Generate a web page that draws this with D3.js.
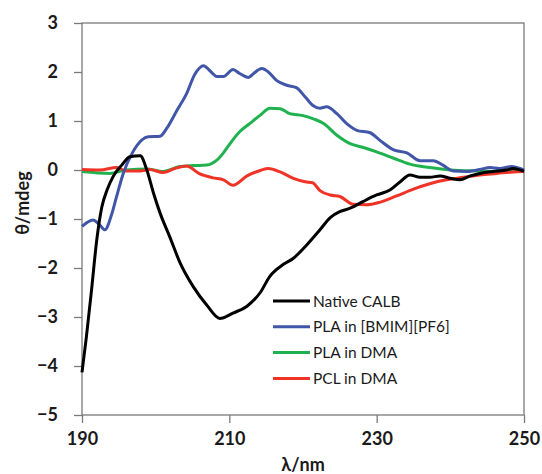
<!DOCTYPE html>
<html>
<head>
<meta charset="utf-8">
<script src="https://cdn.jsdelivr.net/npm/d3@7"></script>
<style>
    body { margin: 0; background: #fff; }
    svg { display: block; font-family: Lato, "Open Sans", sans-serif; }
</style>
</head>
<body>
<svg id="cdChart"></svg>
<script>
// Wavelengths (nm) and ellipticity (mdeg)
const nativeNm = [190, 190.6, 191.3, 192, 192.7, 193.4, 194.2, 195.4, 196.5, 197.9, 198.8, 199.7, 200.6, 201.9, 203.3, 205.1, 206.9, 208.7, 210.5, 212.4, 214.2, 215.5, 217.3, 218.7, 220.5, 222.3, 223.7, 225, 226.4, 228.2, 230, 231.8, 233.2, 234.5, 235.9, 237.2, 238.6, 240, 241.3, 242.7, 244, 245.8, 247.6, 248.5, 250];
const nativeVal = [-4.13, -3.4, -2.44, -1.43, -0.75, -0.41, -0.14, 0.1, 0.27, 0.29, 0, -0.47, -0.88, -1.36, -1.89, -2.38, -2.75, -3.03, -2.92, -2.78, -2.5, -2.17, -1.93, -1.8, -1.53, -1.22, -0.97, -0.85, -0.78, -0.64, -0.51, -0.41, -0.24, -0.1, -0.15, -0.15, -0.12, -0.17, -0.2, -0.12, -0.07, -0.03, 0, 0.03, -0.03];

const bmimNm = [190, 191.5, 192.4, 193.1, 194, 194.7, 195.6, 196.8, 198.1, 199, 200.6, 201.5, 202.9, 204.2, 205.3, 206.5, 207.4, 208.3, 209.2, 210.5, 211.4, 212.6, 213.3, 214.4, 215.3, 216.4, 217.8, 219.1, 220.3, 221.4, 222.3, 223.2, 224.6, 225.9, 227.3, 229.1, 230.4, 232.3, 234.1, 235.9, 237.7, 239, 240.4, 242.2, 244, 245.4, 246.7, 248.3, 250];
const bmimVal = [-1.15, -1.02, -1.12, -1.22, -0.92, -0.54, -0.07, 0.34, 0.61, 0.68, 0.69, 0.85, 1.22, 1.56, 1.95, 2.13, 2.02, 1.91, 1.91, 2.05, 1.97, 1.89, 1.97, 2.07, 2.0, 1.83, 1.73, 1.68, 1.49, 1.31, 1.26, 1.29, 1.15, 0.95, 0.81, 0.76, 0.61, 0.41, 0.35, 0.19, 0.19, 0.1, -0.02, -0.03, 0.01, 0.05, 0.03, 0.07, 0];

const plaDmaNm = [190, 193.8, 196, 198.8, 201, 203.3, 205.1, 206.9, 208.3, 209.2, 210.1, 211.4, 212.8, 214.2, 215.5, 216.9, 218.2, 220, 221.5, 222.8, 224.6, 226.4, 228.2, 230, 232.3, 234.5, 237.2, 240, 243.6, 247.1, 250];
const plaDmaVal = [-0.03, -0.07, 0, 0.02, -0.03, 0.07, 0.09, 0.1, 0.2, 0.35, 0.54, 0.78, 0.95, 1.12, 1.26, 1.25, 1.15, 1.11, 1.04, 0.95, 0.71, 0.54, 0.46, 0.37, 0.24, 0.12, 0.05, 0, -0.02, -0.03, -0.03];

const pclDmaNm = [190, 192.4, 194.7, 196, 197.9, 199.2, 201, 202.6, 204.2, 206, 207.8, 209.2, 210.5, 212.4, 214.2, 215.3, 216.9, 218.7, 220.3, 221.3, 222.3, 223.7, 225, 226.8, 228.6, 230.4, 232.7, 235, 237.2, 239.5, 241.8, 244, 246.3, 248.5, 250];
const pclDmaVal = [0.01, 0, 0.05, -0.02, -0.02, 0.01, -0.05, 0.03, 0.08, -0.08, -0.16, -0.2, -0.31, -0.12, -0.01, 0.03, -0.04, -0.17, -0.24, -0.26, -0.42, -0.51, -0.54, -0.7, -0.71, -0.66, -0.53, -0.39, -0.28, -0.2, -0.15, -0.1, -0.07, -0.04, -0.03];

const seriesNames = ["Native CALB", "PLA in [BMIM][PF6]", "PLA in DMA", "PCL in DMA"];
const seriesColors = ["#000000", "#4156a8", "#1fb24e", "#ef3326"];
const xTicks = [190, 210, 230, 250];
const yTicks = [3, 2, 1, 0, -1, -2, -3, -4, -5];

document.addEventListener("DOMContentLoaded", function () {
    const W = 542, H = 474;
    const margin = { top: 23, right: 18, bottom: 59, left: 82 };
    const width = W - margin.left - margin.right;
    const height = H - margin.top - margin.bottom;

    const svg = d3.select("#cdChart").attr("width", W).attr("height", H);
    const g = svg.append("g").attr("transform", `translate(${margin.left},${margin.top})`);

    const x = d3.scaleLinear().domain([190, 250]).range([0, width]);
    const y = d3.scaleLinear().domain([-5, 3]).range([height, 0]);

    // Plot frame
    g.append("rect")
        .attr("width", width).attr("height", height)
        .attr("fill", "none").attr("stroke", "#7a7a7a").attr("stroke-width", 1.3);

    // Axes with outward ticks
    const yAxis = g.append("g")
        .call(d3.axisLeft(y).tickValues(yTicks).tickSize(8).tickPadding(16).tickFormat(d3.format("d")));
    const xAxis = g.append("g")
        .attr("transform", `translate(0,${height})`)
        .call(d3.axisBottom(x).tickValues(xTicks).tickSize(8).tickPadding(9));
    [xAxis, yAxis].forEach(a => {
        a.select(".domain").remove();
        a.selectAll("line").attr("stroke", "#7a7a7a").attr("stroke-width", 1.3);
        a.selectAll("text")
            .attr("fill", "#1a1a1a")
            .style("font-family", "Lato, 'Open Sans', sans-serif")
            .style("font-size", "18px").style("font-weight", "bold");
    });

    // Axis titles
    svg.append("text")
        .attr("x", margin.left + width / 2).attr("y", 471)
        .attr("text-anchor", "middle")
        .style("font-size", "18px").style("font-weight", "bold").attr("fill", "#1a1a1a")
        .text("λ/nm");
    svg.append("text")
        .attr("transform", "translate(29,203) rotate(-90)")
        .attr("text-anchor", "middle")
        .style("font-size", "18px").style("font-weight", "bold").attr("fill", "#1a1a1a")
        .text("θ/mdeg");

    // Spectra
    const lineGen = d3.line()
        .x(d => x(d[0]))
        .y(d => y(d[1]))
        .curve(d3.curveMonotoneX);

    const allNm = [nativeNm, bmimNm, plaDmaNm, pclDmaNm];
    const allVal = [nativeVal, bmimVal, plaDmaVal, pclDmaVal];
    // draw green, red and blue first so black sits on top where it crosses
    [2, 3, 1, 0].forEach(i => {
        const pts = d3.zip(allNm[i], allVal[i]);
        g.append("path")
            .datum(pts)
            .attr("fill", "none")
            .attr("stroke", seriesColors[i])
            .attr("stroke-width", 3)
            .attr("stroke-linejoin", "round")
            .attr("d", lineGen);
    });

    // Legend
    const legend = svg.append("g").attr("transform", "translate(273,301)");
    seriesNames.forEach((name, i) => {
        const row = legend.append("g").attr("transform", `translate(0,${i * 25.8})`);
        row.append("line")
            .attr("x1", 0).attr("x2", 37).attr("y1", 0).attr("y2", 0)
            .attr("stroke", seriesColors[i]).attr("stroke-width", 3);
        row.append("text")
            .attr("x", 40).attr("y", 5.5)
            .style("font-size", "15.5px").attr("fill", "#1a1a1a")
            .text(name);
    });
});
</script>
</body>
</html>
